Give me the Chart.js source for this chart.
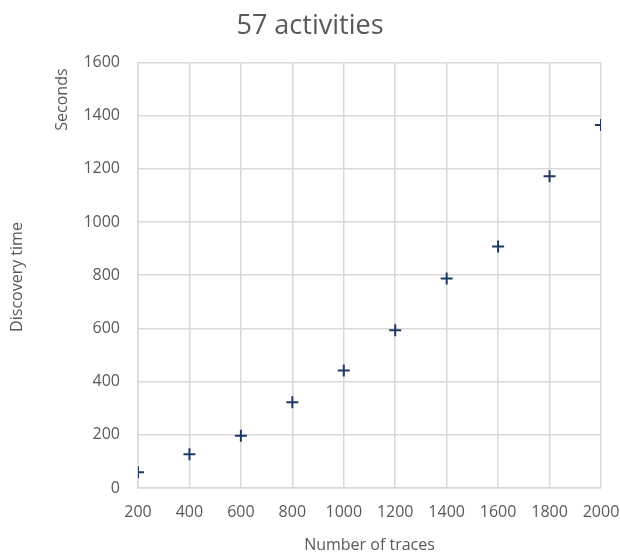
<!DOCTYPE html>
<html lang="en">
<head>
    <meta charset="UTF-8">
    <title>57 activities</title>
    <script src="https://cdn.jsdelivr.net/npm/chart.js"></script>
    <style>
      html, body { margin: 0; padding: 0; background: #fff; }
      #chartBox { width: 620px; height: 559px; }
    </style>
</head>
<body>
    <div id="chartBox"><canvas id="myChart"></canvas></div>

    <script>
        // data
        const traces = [200, 400, 600, 800, 1000, 1200, 1400, 1600, 1800, 2000];
        const seconds = [59, 127, 196, 322, 442, 593, 788, 908, 1172, 1365];
        const xTicks = [200, 2000, 200];   // min, max, step
        const yTicks = [0, 1600, 200];

        const textColor = '#595959';
        const gridColor = '#d9d9d9';
        const fontFamily = '"Open Sans", sans-serif';

        // the two left titles ("Discovery time" outside, "Seconds" next to the ticks)
        const yTitlesPlugin = {
            id: 'yTitlesPlugin',
            afterDraw(chart) {
                const {ctx, chartArea} = chart;
                ctx.save();
                ctx.fillStyle = textColor;
                ctx.font = '16px ' + fontFamily;
                ctx.textBaseline = 'middle';

                ctx.save();
                ctx.translate(17, 277);
                ctx.rotate(-Math.PI / 2);
                ctx.textAlign = 'center';
                ctx.fillText('Discovery time', 0, 0);
                ctx.restore();

                ctx.save();
                ctx.translate(62, chartArea.top + 6);
                ctx.rotate(-Math.PI / 2);
                ctx.textAlign = 'right';
                ctx.fillText('Seconds', 0, 0);
                ctx.restore();

                ctx.restore();
            }
        };

        const points = traces.map((t, i) => ({x: t, y: seconds[i]}));
        const plain = (value) => String(value);

        const config = {
            type: 'scatter',
            data: {
                datasets: [{
                    label: 'Discovery time',
                    data: points,
                    pointStyle: 'cross',
                    pointRadius: 6,
                    pointHoverRadius: 6,
                    borderWidth: 2,
                    borderColor: '#1f3864',
                    backgroundColor: '#1f3864'
                }]
            },
            options: {
                responsive: true,
                maintainAspectRatio: false,
                animation: false,
                layout: {
                    padding: {left: 0, right: 0, top: 0, bottom: 0}
                },
                plugins: {
                    legend: { display: false },
                    tooltip: { enabled: false },
                    title: {
                        display: true,
                        text: '57 activities',
                        color: textColor,
                        font: { family: fontFamily, size: 27, weight: 'normal' },
                        padding: { top: 10, bottom: 20 }
                    }
                },
                scales: {
                    x: {
                        type: 'linear',
                        min: xTicks[0],
                        max: xTicks[1],
                        afterFit(scale) {
                            scale.height = 71;
                            scale.paddingLeft = 0;
                            scale.paddingRight = 19;
                        },
                        ticks: {
                            stepSize: xTicks[2],
                            color: textColor,
                            padding: 15,
                            maxRotation: 0,
                            callback: plain,
                            font: { family: fontFamily, size: 16 }
                        },
                        grid: { color: gridColor, drawTicks: false, lineWidth: 1.5 },
                        border: { color: gridColor, width: 1.5 },
                        title: {
                            display: true,
                            text: 'Number of traces',
                            color: textColor,
                            font: { family: fontFamily, size: 16 },
                            padding: { top: 0, bottom: 4 }
                        }
                    },
                    y: {
                        min: yTicks[0],
                        max: yTicks[1],
                        afterFit(scale) { scale.width = 138; },
                        ticks: {
                            stepSize: yTicks[2],
                            color: textColor,
                            padding: 18,
                            callback: plain,
                            font: { family: fontFamily, size: 16 }
                        },
                        grid: { color: gridColor, drawTicks: false, lineWidth: 1.5 },
                        border: { color: gridColor, width: 1.5 }
                    }
                }
            },
            plugins: [yTitlesPlugin]
        };

        const ctx = document.getElementById('myChart').getContext('2d');
        new Chart(ctx, config);
    </script>
</body>
</html>
